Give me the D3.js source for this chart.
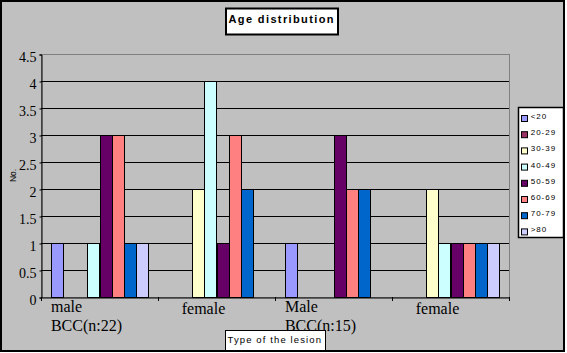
<!DOCTYPE html>
<html>
<head>
<meta charset="utf-8">
<script src="https://cdn.jsdelivr.net/npm/d3@7"></script>
<style>
  body { margin: 0; background: #fff; }
  svg { display: block; }
</style>
</head>
<body>
<div id="chart-area"></div>
<script>
// data
const categories = [['male', 'BCC(n:22)'], ['female'], ['Male', 'BCC(n:15)'], ['female']]
const ageGroups = ['<20', '20-29', '30-39', '40-49', '50-59', '60-69', '70-79', '>80']
const lt20 = [1, 0, 1, 0]
const a20to29 = [0, 0, 0, 0]
const a30to39 = [0, 2, 0, 2]
const a40to49 = [1, 4, 0, 1]
const a50to59 = [3, 1, 3, 1]
const a60to69 = [3, 3, 2, 1]
const a70to79 = [1, 2, 2, 1]
const gt80 = [1, 0, 0, 1]
const yTicks = [0, 0.5, 1, 1.5, 2, 2.5, 3, 3.5, 4, 4.5]

const series = [lt20, a20to29, a30to39, a40to49, a50to59, a60to69, a70to79, gt80]
const colors = ['#9999FF', '#993366', '#FFFFCC', '#CCFFFF', '#660066', '#FF8080', '#0066CC', '#CCCCFF']

const W = 567, H = 353
const PLOT = { LEFT: 41, RIGHT: 509, TOP: 54, BOTTOM: 297 }

const svg = d3.select('#chart-area').append('svg')
  .attr('width', W)
  .attr('height', H)

// chart background + frame
svg.append('rect')
  .attr('x', 1).attr('y', 1)
  .attr('width', 563).attr('height', 350)
  .attr('fill', '#C0C0C0')
  .attr('stroke', '#000')
  .attr('stroke-width', 2)

// scales
const x0 = d3.scaleBand()
  .domain(categories.map((c, i) => i))
  .range([PLOT.LEFT, PLOT.RIGHT])

const x1 = d3.scaleBand()
  .domain(ageGroups)
  .range([0, x0.bandwidth()])
  .paddingInner(0)
  .paddingOuter(0.8)

const y = d3.scaleLinear()
  .domain([0, 4.5])
  .range([PLOT.BOTTOM, PLOT.TOP])

// plot area border (grey)
svg.append('rect')
  .attr('x', PLOT.LEFT + 0.5).attr('y', y(4.5) + 0.5)
  .attr('width', PLOT.RIGHT - PLOT.LEFT).attr('height', PLOT.BOTTOM - y(4.5))
  .attr('fill', 'none')
  .attr('stroke', '#808080')

// gridlines
svg.append('g')
  .selectAll('line')
  .data(yTicks.filter(d => d > 0 && d < 4.5))
  .enter().append('line')
  .attr('x1', PLOT.LEFT).attr('x2', PLOT.RIGHT)
  .attr('y1', d => Math.round(y(d)) + 0.5)
  .attr('y2', d => Math.round(y(d)) + 0.5)
  .attr('stroke', '#000')

// bars
const rows = []
categories.forEach((c, i) => {
  ageGroups.forEach((a, j) => {
    if (series[j][i] > 0) rows.push({ cat: i, age: a, value: series[j][i], color: colors[j] })
  })
})

svg.append('g')
  .selectAll('rect')
  .data(rows)
  .enter().append('rect')
  .attr('x', d => Math.round(x0(d.cat) + x1(d.age)) + 0.5)
  .attr('y', d => Math.round(y(d.value)) + 0.5)
  .attr('width', Math.round(x1.bandwidth()))
  .attr('height', d => Math.round(y(0)) - Math.round(y(d.value)))
  .attr('fill', d => d.color)
  .attr('stroke', '#000')

// y axis
const yAxisCall = d3.axisLeft(y)
  .tickValues(yTicks)
  .tickSize(2)
  .tickPadding(3)
  .tickFormat(d => String(d))
const yAxis = svg.append('g')
  .attr('transform', `translate(${PLOT.LEFT + 0.5}, 0.5)`)
  .call(yAxisCall)
yAxis.select('.domain').attr('stroke', '#000')
yAxis.selectAll('text')
  .attr('font-family', '"Liberation Serif", "Times New Roman", serif')
  .attr('font-size', '14px')
  .attr('fill', '#000')
  .attr('dy', '0.5em')

// x axis (ticks on category boundaries)
const xAxisCall = d3.axisBottom(x0).tickSize(0).tickSizeOuter(0).tickFormat('')
svg.append('g')
  .attr('transform', `translate(0, ${PLOT.BOTTOM + 0.5})`)
  .call(xAxisCall)
  .select('.domain').attr('stroke', '#000')

const bounds = categories.map((c, i) => x0(i)).concat([PLOT.RIGHT])
svg.append('g')
  .selectAll('line')
  .data(bounds)
  .enter().append('line')
  .attr('x1', d => Math.round(d) + 0.5).attr('x2', d => Math.round(d) + 0.5)
  .attr('y1', PLOT.BOTTOM).attr('y2', PLOT.BOTTOM + 4)
  .attr('stroke', '#000')

// category labels
categories.forEach((lines, i) => {
  const t = svg.append('text')
    .attr('font-family', '"Liberation Serif", "Times New Roman", serif')
    .attr('font-size', '16px')
    .attr('fill', '#000')
  const base = lines.length > 1 ? 311.5 : 314
  lines.forEach((l, k) => {
    t.append('tspan').attr('y', base + k * 19).text(l)
  })
  const maxW = d3.max(t.selectAll('tspan').nodes(), n => n.getComputedTextLength())
  t.selectAll('tspan').attr('x', x0(i) + 45.5 - maxW / 2)
})

// title
svg.append('rect')
  .attr('x', 226).attr('y', 8.5)
  .attr('width', 112).attr('height', 26)
  .attr('fill', '#fff')
  .attr('stroke', '#000')
  .attr('stroke-width', 2)
svg.append('text')
  .attr('x', 228.5).attr('y', 22.7)
  .attr('font-family', '"Liberation Sans", Arial, sans-serif')
  .attr('font-weight', 'bold')
  .attr('font-size', '11px')
  .attr('textLength', 105)
  .attr('lengthAdjust', 'spacing')
  .text('Age distribution')

// x-label
svg.append('rect')
  .attr('x', 225.5).attr('y', 330.5)
  .attr('width', 100).attr('height', 20)
  .attr('fill', '#fff')
  .attr('stroke', '#000')
svg.append('text')
  .attr('x', 227.5).attr('y', 343.3)
  .attr('font-family', '"Liberation Sans", Arial, sans-serif')
  .attr('font-size', '9.5px')
  .attr('textLength', 93.5)
  .attr('lengthAdjust', 'spacing')
  .text('Type of the lesion')

// y-label
svg.append('text')
  .attr('transform', 'translate(16, 175.5) rotate(-90)')
  .attr('text-anchor', 'middle')
  .attr('font-family', '"Liberation Sans", Arial, sans-serif')
  .attr('font-size', '8.5px')
  .text('No.')

// legend
const legend = svg.append('g')
legend.append('rect')
  .attr('x', 518.5).attr('y', 107.5)
  .attr('width', 45).attr('height', 130)
  .attr('fill', '#fff')
  .attr('stroke', '#000')
  .attr('stroke-width', 1.5)

const items = legend.selectAll('g.item')
  .data(ageGroups)
  .enter().append('g')
  .attr('class', 'item')
  .attr('transform', (d, i) => `translate(0, ${116 + i * 16.2})`)

items.append('rect')
  .attr('x', 521.5).attr('y', -0.5)
  .attr('width', 6).attr('height', 6)
  .attr('fill', (d, i) => colors[i])
  .attr('stroke', '#000')

items.append('text')
  .attr('x', 530.7).attr('y', 3)
  .attr('font-family', '"Liberation Sans", Arial, sans-serif')
  .attr('font-size', '8px')
  .attr('letter-spacing', '1px')
  .text(d => d)
</script>
</body>
</html>
